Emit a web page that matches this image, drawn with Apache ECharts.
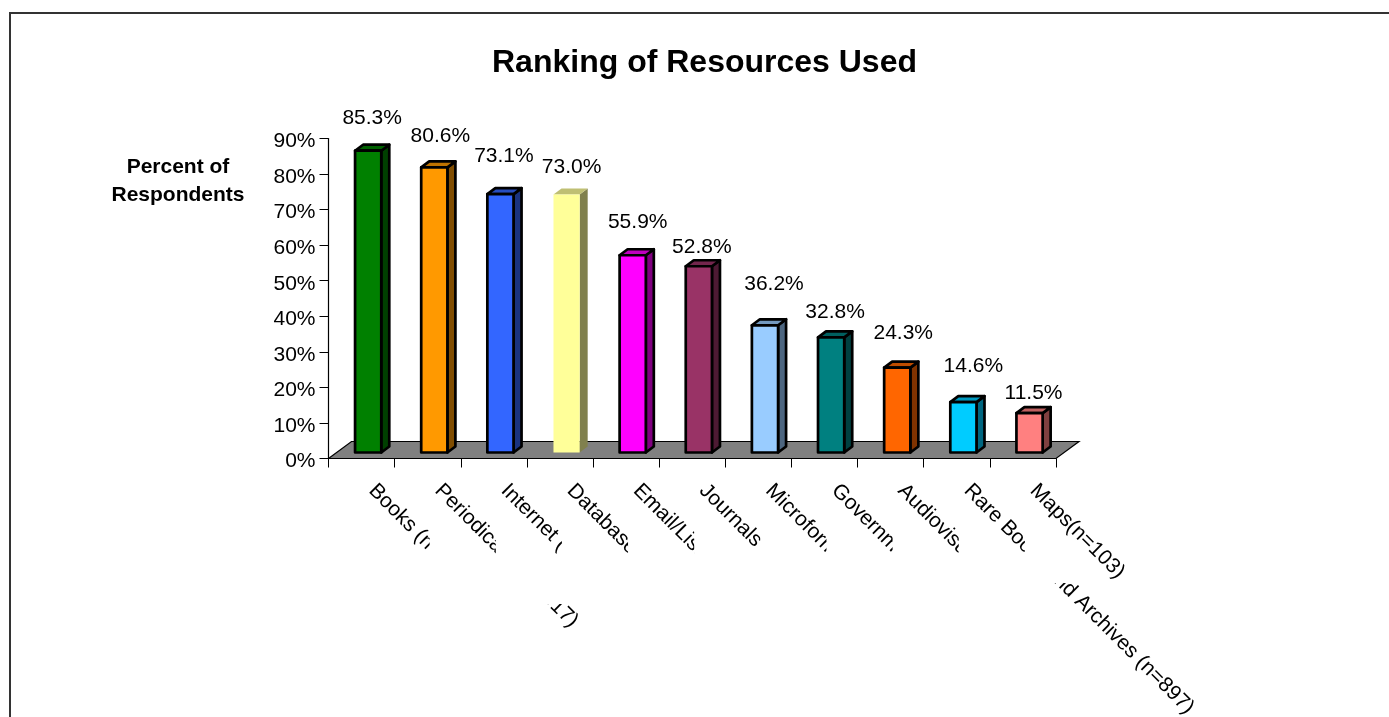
<!DOCTYPE html>
<html>
<head>
<meta charset="utf-8">
<style>html,body{margin:0;padding:0;background:#fff;overflow:hidden}#c{width:1389px;height:717px}</style>
<script src="https://cdn.jsdelivr.net/npm/echarts@6/dist/echarts.min.js"></script>
</head>
<body>
<div id="c"></div>
<script>
const categories = ["Books (n", "Periodicals (n=1017)", "Internet (", "Databases", "Email/Listservs", "Journals", "Microforms", "Government", "Audiovisual", "Rare Books and Archives (n=897)", "Maps(n=103)"];
const values = [85.3, 80.6, 73.1, 73.0, 55.9, 52.8, 36.2, 32.8, 24.3, 14.6, 11.5];
const barColors = ["#008000", "#FF9900", "#3366FF", "#FFFF99", "#FF00FF", "#993366", "#99CCFF", "#008080", "#FF6600", "#00CCFF", "#FF8080"];
const outlined = [true, true, true, false, true, true, true, true, true, true, true];
const labelDx = [4, 6, 3.5, 5, 5, 3, 9, 4, 6, 10, 4];
const labelDy = [-32, -31, -37, -27, -33, -19, -41, -25, -34, -35, -19];
const yTicks = [0, 90, 10];

const FONT = '"Liberation Sans", Arial, sans-serif';
function shade(hex, k) {
  const n = parseInt(hex.slice(1), 16);
  const c = [n >> 16, (n >> 8) & 255, n & 255].map(v => Math.round(v * k));
  return `rgb(${c[0]},${c[1]},${c[2]})`;
}

function renderFloor(params, api) {
  const cs = params.coordSys;
  const x0 = cs.x, x1 = cs.x + cs.width, y = cs.y + cs.height;
  return {
    type: 'polygon',
    shape: { points: [[x0, y], [x0 + 23, y - 17], [x1 + 23, y - 17], [x1, y]] },
    style: { fill: '#808080', stroke: '#000', lineWidth: 1.2 }
  };
}

function renderBar(params, api) {
  const i = api.value(0);
  const v = api.value(1);
  const top = api.coord([i, v]);
  const base = api.coord([i, 0]);
  const w = 26.2, dx = 8, dy = -6;
  const cx = top[0] + 6.6;
  const l = cx - w / 2, r = cx + w / 2;
  const t = top[1] - 4.5, b = base[1] - 6;
  const col = barColors[i];
  const on = outlined[i];
  const edge = { stroke: on ? '#000' : null, lineWidth: on ? 2.7 : 0, lineJoin: 'round' };
  return {
    type: 'group',
    children: [
      { type: 'polygon', shape: { points: [[r, t], [r + dx, t + dy], [r + dx, b + dy], [r, b]] }, style: Object.assign({ fill: shade(col, 0.5) }, edge) },
      { type: 'polygon', shape: { points: [[l, t], [l + dx, t + dy], [r + dx, t + dy], [r, t]] }, style: Object.assign({ fill: shade(col, 0.75) }, edge) },
      { type: 'rect', shape: { x: l, y: t, width: w, height: b - t }, style: Object.assign({ fill: col }, edge) },
      { type: 'text', x: cx + labelDx[i], y: top[1] - 5 + labelDy[i],
        style: { text: v.toFixed(1) + '%', fill: '#000', font: '21px ' + FONT, align: 'center', verticalAlign: 'middle' } }
    ]
  };
}

function categoryText(text, x, y) {
  return { type: 'text', x: x, y: y, rotation: -Math.PI / 4,
    style: { text: text, fill: '#000', font: '21px ' + FONT, align: 'left', verticalAlign: 'middle' } };
}

function renderCategory(params, api) {
  const i = api.value(0);
  const cs = params.coordSys;
  const band = api.size([1, 0])[0];
  const left = cs.x + band * i;
  const axisY = cs.y + cs.height;
  const ax = left + 43.5, ay = axisY + 29;
  const text = categories[i];
  const last = i === categories.length - 1;
  const windowRight = last ? 2000 : ax + band - 8.5;
  const children = [{
    type: 'group',
    clipPath: { type: 'rect', shape: { x: ax - 30, y: axisY, width: windowRight - ax + 30, height: 400 } },
    children: [categoryText(text, ax, ay)]
  }];
  const reappear = { 1: 604, 9: 583 }[i];
  if (reappear) {
    children.push({
      type: 'group',
      clipPath: { type: 'rect', shape: { x: ax, y: reappear, width: 600, height: 300 } },
      children: [categoryText(text, ax, ay)]
    });
  }
  return { type: 'group', children: children };
}

const chart = echarts.init(document.getElementById('c'), null, { renderer: 'canvas' });
chart.setOption({
  animation: false,
  backgroundColor: '#fff',
  title: {
    text: 'Ranking of Resources Used', left: 699.5, top: 42, textAlign: 'center',
    textStyle: { fontFamily: FONT, fontWeight: 'bold', fontSize: 32, color: '#000' }
  },
  graphic: [
    { type: 'rect', silent: true, z: -10, shape: { x: 10, y: 13, width: 1600, height: 900 }, style: { fill: 'none', stroke: '#333', lineWidth: 2 } },
    { type: 'text', silent: true, x: 178, y: 167, style: { text: 'Percent of', font: 'bold 21px ' + FONT, fill: '#000', align: 'center', verticalAlign: 'middle' } },
    { type: 'text', silent: true, x: 178, y: 195, style: { text: 'Respondents', font: 'bold 21px ' + FONT, fill: '#000', align: 'center', verticalAlign: 'middle' } }
  ],
  grid: { left: 328.5, top: 138.5, width: 727.5, height: 320, containLabel: false },
  xAxis: {
    type: 'category', data: categories, boundaryGap: true,
    axisLine: { show: true, lineStyle: { color: '#000', width: 1.2 } },
    axisTick: { show: true, length: 9, interval: 0, alignWithLabel: false, lineStyle: { color: '#000', width: 1 } },
    axisLabel: { show: false }
  },
  yAxis: {
    type: 'value', min: yTicks[0], max: yTicks[1], interval: yTicks[2],
    axisLine: { show: true, lineStyle: { color: '#000', width: 1.2 } },
    axisTick: { show: true, length: 9, lineStyle: { color: '#000', width: 1 } },
    splitLine: { show: false },
    axisLabel: { formatter: '{value}%', margin: 13, color: '#000', fontFamily: FONT, fontSize: 21, verticalAlign: 'top', lineHeight: 6, verticalAlignMinLabel: 'top', verticalAlignMaxLabel: 'top' }
  },
  tooltip: { show: false },
  series: [
    { type: 'custom', silent: true, z: 1, clip: false, renderItem: renderFloor, data: [[0, 0]], encode: { x: 0, y: 1 } },
    { type: 'custom', silent: true, z: 2, clip: false, renderItem: renderBar, data: values.map((v, i) => [i, v]), encode: { x: 0, y: 1 } },
    { type: 'custom', silent: true, z: 3, clip: false, renderItem: renderCategory, data: categories.map((c, i) => [i, 0]), encode: { x: 0, y: 1 } }
  ]
});
</script>
</body>
</html>
